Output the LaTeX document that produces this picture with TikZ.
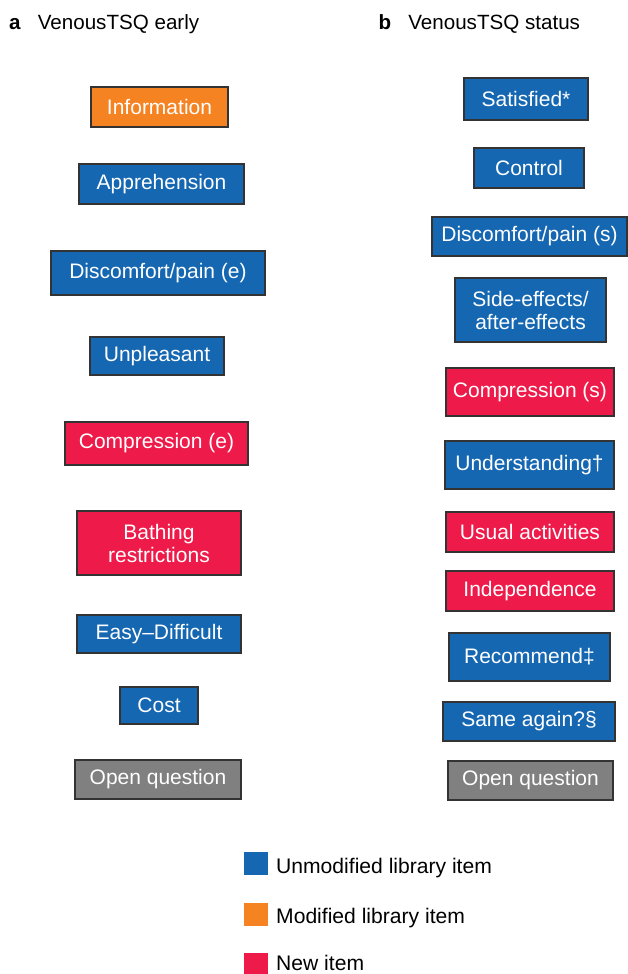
\documentclass[tikz,border=0pt]{standalone}
\usepackage{fontspec}
\setmainfont{Liberation Sans}
\definecolor{cblue}{HTML}{1567B2}
\definecolor{corange}{HTML}{F58322}
\definecolor{cred}{HTML}{EE1A4A}
\definecolor{cgray}{HTML}{808080}
\begin{document}
\begin{tikzpicture}[x=1pt,y=-1pt,
  bx/.style={draw=black!80, line width=1.2pt, text=white, inner sep=0pt, align=center,
    font=\fontsize{21}{23}\selectfont},
  ub/.style={bx, fill=cblue},
  mb/.style={bx, fill=corange},
  nb/.style={bx, fill=cred},
  ob/.style={bx, fill=cgray},
  lsq/.style={minimum width=24, minimum height=23, inner sep=0pt},
  ltx/.style={anchor=base west, inner sep=0pt, font=\fontsize{21.1}{23}\selectfont},
  hd/.style={anchor=base west, inner sep=0pt, font=\fontsize{20.6}{23}\selectfont}]
\useasboundingbox[fill=white] (0,0) rectangle (627,974);
% headers
\node[hd] (ha) at (9,29.5) {\textbf{a}\hspace{17pt}VenousTSQ early};
\node[hd] (hb) at (378.5,29.5) {\textbf{b}\hspace{17pt}VenousTSQ status};
% left column
\node[mb, minimum width=137, minimum height=40] (info) at (159.5,107) {Information};
\node[ub, minimum width=165, minimum height=40] (appr) at (161.5,184) {Apprehension};
\node[ub, minimum width=214, minimum height=44] (disce) at (158,273) {Discomfort/pain (e)};
\node[ub, minimum width=134, minimum height=38] (unpl) at (157,356) {Unpleasant};
\node[nb, minimum width=183, minimum height=43] (compe) at (156.5,443.5) {Compression (e)};
\node[nb, minimum width=164, minimum height=64] (bath) at (159,543) {Bathing\\restrictions};
\node[ub, minimum width=164, minimum height=38] (easy) at (159,634) {Easy--Difficult};
\node[ub, minimum width=78, minimum height=37] (cost) at (159,705.5) {Cost};
\node[ob, minimum width=166, minimum height=39] (openl) at (158,779.5) {Open question};
% right column
\node[ub, minimum width=124, minimum height=42] (sat) at (526,99) {Satisfied*};
\node[ub, minimum width=110, minimum height=40] (ctrl) at (529,168) {Control};
\node[ub, minimum width=195, minimum height=39] (discs) at (529.5,236.5) {Discomfort/pain (s)};
\node[ub, minimum width=151, minimum height=64] (side) at (530.5,310) {Side-effects/\\after-effects};
\node[nb, minimum width=168, minimum height=48] (comps) at (530,392) {Compression (s)};
\node[ub, minimum width=169, minimum height=48] (und) at (529.5,465) {Understanding†};
\node[nb, minimum width=168, minimum height=40] (usual) at (530,532) {Usual activities};
\node[nb, minimum width=168, minimum height=40] (indep) at (530,591) {Independence};
\node[ub, minimum width=161, minimum height=48] (recom) at (529.5,657) {Recommend‡};
\node[ub, minimum width=172, minimum height=39] (same) at (529,721.5) {Same again?§};
\node[ob, minimum width=165, minimum height=39] (openr) at (530.5,780.5) {Open question};
% legend
\node[lsq, fill=cblue] (lq1) at (255.5,863) {};
\node[lsq, fill=corange] (lq2) at (255.5,914) {};
\node[lsq, fill=cred] (lq3) at (255.5,964) {};
\node[ltx] (lt1) at (276,873) {Unmodified library item};
\node[ltx] (lt2) at (276,923) {Modified library item};
\node[ltx] (lt3) at (276,970) {New item};
\end{tikzpicture}
\end{document}
